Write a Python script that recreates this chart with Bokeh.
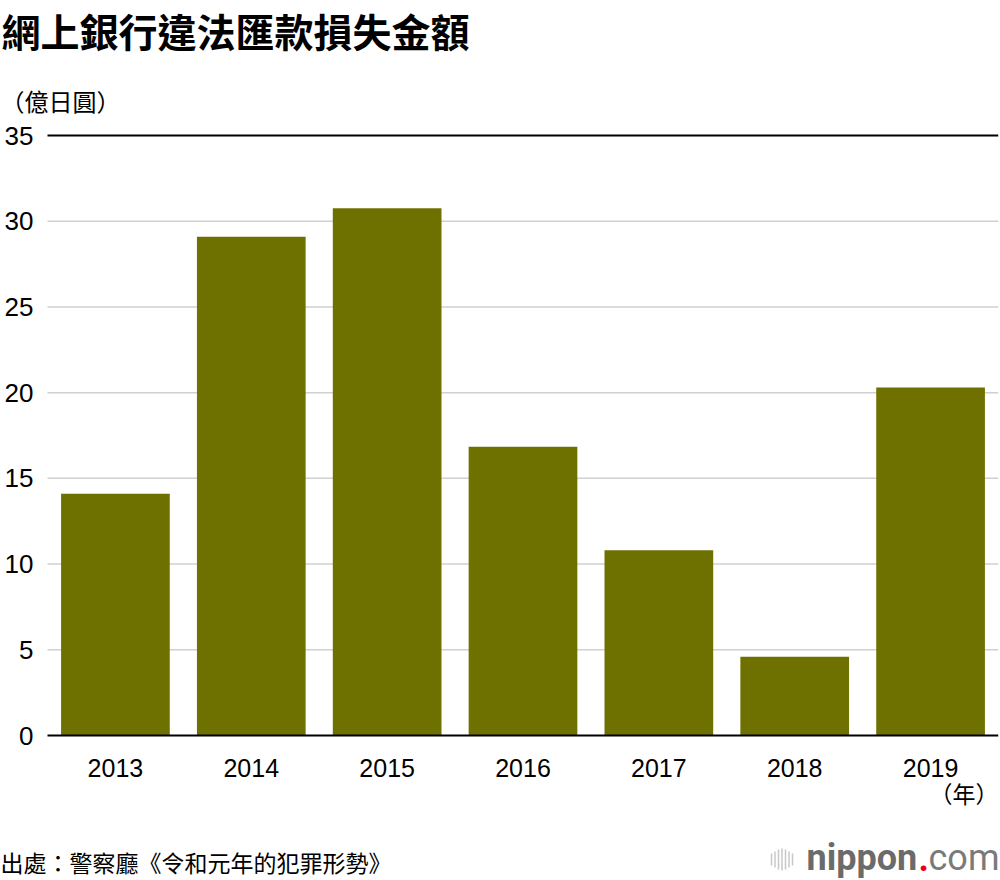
from bokeh.plotting import figure
from bokeh.layouts import column
from bokeh.models import ColumnDataSource, Range1d, FixedTicker
from bokeh.core.properties import value
from bokeh.embed import file_html
from bokeh.resources import INLINE

# ---- data ----
years = ["2013", "2014", "2015", "2016", "2017", "2018", "2019"]
losses = [14.1, 29.1, 30.75, 16.85, 10.8, 4.6, 20.3]
y_ticks = [0, 5, 10, 15, 20, 25, 30, 35]

title_text = "網上銀行違法匯款損失金額"
unit_text = "（億日圓）"
xunit_text = "（年）"
source_text = "出處：警察廳《令和元年的犯罪形勢》"

BAR = "#6e7100"
GRID = "#d0d0d0"
CJK = "Noto Sans CJK TC"
NUM = "Liberation Sans"

# ---- layout constants (page pixels) ----
W = 1000
RIGHT_BORDER = 2
FRAME_W = W - RIGHT_BORDER          # frames span x = 0 .. 998
PLOT_LEFT = 47                      # where the first bar slot starts
HEAD_H = 120
MAIN_TOP = HEAD_H
MAIN_H = 695
FOOT_H = 880 - HEAD_H - MAIN_H
Y_TOP_PAGE = 135                    # page y of the highest tick
Y_ZERO_PAGE = 735                   # page y of the lowest tick
XUNIT_PAGE = 792                    # page y of the year-unit label

n = len(years)
idx = list(range(n))
slot_px = (FRAME_W - PLOT_LEFT) / n
x_start = -0.5 - PLOT_LEFT / slot_px
px_per_unit = (Y_ZERO_PAGE - Y_TOP_PAGE) / (y_ticks[-1] - y_ticks[0])
y_end = y_ticks[-1] + (Y_TOP_PAGE - MAIN_TOP) / px_per_unit
y_start = y_ticks[0] - (MAIN_TOP + MAIN_H - Y_ZERO_PAGE) / px_per_unit


def blank(h):
    f = figure(width=W, height=h, x_range=Range1d(0, FRAME_W), y_range=Range1d(h, 0),
               x_axis_type=None, y_axis_type=None, min_border=0,
               min_border_right=RIGHT_BORDER,
               output_backend="svg", toolbar_location=None)
    f.grid.visible = False
    f.outline_line_color = None
    f.background_fill_color = "white"
    f.border_fill_color = "white"
    return f


# ---- header ----
head = blank(HEAD_H)
head.text(x=[1], y=[29], text=[title_text], text_font=value(CJK),
          text_font_size="39px", text_font_style="bold", text_color="black",
          text_baseline="middle", text_align="left")
head.text(x=[0], y=[100], text=[unit_text], text_font=value(CJK),
          text_font_size="24px", text_color="black",
          text_baseline="middle", text_align="left")

# ---- main chart ----
src = ColumnDataSource(data=dict(x=idx, value=losses))
p = figure(
    x_range=Range1d(x_start, n - 0.5),
    y_range=Range1d(y_start, y_end),
    width=W, height=MAIN_H,
    min_border=0, min_border_left=0, min_border_right=RIGHT_BORDER,
    min_border_top=0, min_border_bottom=0,
    output_backend="svg", toolbar_location=None,
)
p.outline_line_color = None
p.background_fill_color = "white"
p.border_fill_color = "white"
p.grid.visible = False

# horizontal grid lines over the bar slots only
p.segment(x0=[-0.5] * (len(y_ticks) - 2), x1=[n - 0.5] * (len(y_ticks) - 2),
          y0=y_ticks[1:-1], y1=y_ticks[1:-1], line_color=GRID, line_width=1.5)
p.segment(x0=[-0.5], x1=[n - 0.5], y0=[y_ticks[-1]], y1=[y_ticks[-1]],
          line_color="black", line_width=2)

p.vbar(x="x", top="value", width=0.8, source=src,
       fill_color=BAR, line_color=None)

yax = p.yaxis[0]
yax.fixed_location = -0.5
yax.ticker = FixedTicker(ticks=y_ticks)
yax.axis_line_color = None
yax.major_tick_line_color = None
yax.major_tick_out = 0
yax.major_tick_in = 0
yax.minor_tick_line_color = None
yax.major_label_standoff = 14
yax.major_label_text_font = NUM
yax.major_label_text_font_size = "26px"
yax.major_label_text_color = "black"

xax = p.xaxis[0]
xax.fixed_location = y_ticks[0]
xax.ticker = FixedTicker(ticks=idx)
xax.major_label_overrides = {i: y for i, y in zip(idx, years)}
xax.bounds = (-0.5, n - 0.5)
xax.axis_line_color = "black"
xax.axis_line_width = 2
xax.major_tick_line_color = None
xax.major_tick_out = 0
xax.major_tick_in = 0
xax.minor_tick_line_color = None
xax.major_label_standoff = 23
xax.major_label_text_font = NUM
xax.major_label_text_font_size = "25px"
xax.major_label_text_color = "black"

# year unit at the right end of the axis
p.text(x=[n - 0.5], y=[y_ticks[0] - (XUNIT_PAGE - Y_ZERO_PAGE) / px_per_unit],
       text=[xunit_text], text_font=value(CJK), text_font_size="23px",
       text_color="black", text_baseline="middle", text_align="right")

# ---- footer ----
foot = blank(FOOT_H)
foot.text(x=[0], y=[46], text=[source_text], text_font=value(CJK),
          text_font_size="23px", text_color="black",
          text_baseline="middle", text_align="left")
icon_x = [771, 774.5, 778, 781.5, 785, 788.5, 792]
icon_h = [6, 8, 10, 11, 10, 8, 6]
foot.segment(x0=icon_x, x1=icon_x, y0=[44 - h for h in icon_h],
             y1=[44 + h for h in icon_h], line_color="#c8c8c8", line_width=1.5)
foot.text(x=[806], y=[42], text=["nippon"], text_font=value("Roboto"),
          text_font_size="36px", text_font_style="bold", text_color="#6b6b6b",
          text_baseline="middle", text_align="left")
foot.text(x=[918], y=[42], text=["."], text_font=value("Roboto"),
          text_font_size="36px", text_font_style="bold", text_color="#e60012",
          text_baseline="middle", text_align="left")
foot.text(x=[928], y=[42], text=["com"], text_font=value("Roboto"),
          text_font_size="36px", text_color="#7a7a7a",
          text_baseline="middle", text_align="left")

layout = column(head, p, foot, spacing=0)
open("out.html", "w").write(file_html(layout, INLINE))
